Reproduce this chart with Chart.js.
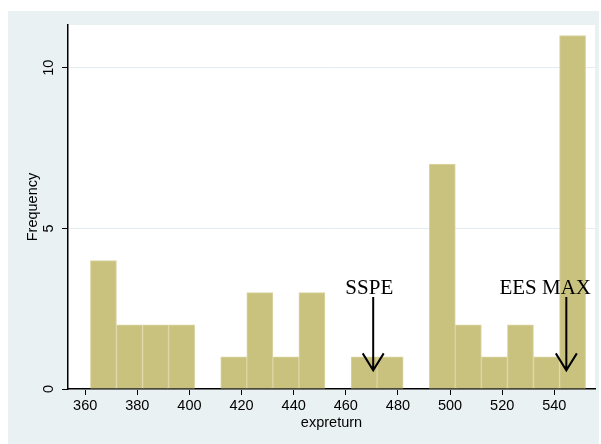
<!DOCTYPE html>
<html>
<head>
<meta charset="utf-8">
<script src="https://cdn.jsdelivr.net/npm/chart.js@4.4.1/dist/chart.umd.min.js"></script>
<style>
  html, body { margin: 0; padding: 0; background: #fff; }
  #wrap { position: relative; width: 601px; height: 444px; }
</style>
</head>
<body>
<div id="wrap"><canvas id="grafico"></canvas></div>
<script>
// histogram bins (centre of each 10-wide bin) and frequencies
const binCenters = [367, 377, 387, 397, 407, 417, 427, 437, 447, 457, 467, 477, 487, 497, 507, 517, 527, 537, 547];
const counts     = [4, 2, 2, 2, 0, 1, 3, 1, 3, 0, 1, 1, 0, 7, 2, 1, 2, 1, 11];

const xTicks = [360, 380, 400, 420, 440, 460, 480, 500, 520, 540];
const yTicks = [0, 5, 10];

// text + arrow notes, in data units
const noteLabels = ["SSPE", "EES MAX"];
const noteTextX  = [469, 536.5];
const noteTextY  = [2.95, 2.95];
const arrowX     = [470.5, 544.6];
const arrowTop   = [2.86, 2.86];
const arrowTip   = [0.58, 0.58];

const fuente = "'Liberation Sans', Arial, Helvetica, sans-serif";

const fondo = {
  id: "fondo",
  beforeDraw(chart) {
    const { ctx, chartArea } = chart;
    ctx.save();
    ctx.fillStyle = "#ffffff";
    ctx.fillRect(0, 0, chart.width, chart.height);
    ctx.fillStyle = "#eaf1f3";
    ctx.fillRect(8, 11, 591, chart.height - 11);
    ctx.fillStyle = "#ffffff";
    ctx.fillRect(chartArea.left, chartArea.top, chartArea.right - chartArea.left, chartArea.bottom - chartArea.top);
    ctx.restore();
  }
};

// y tick labels drawn rotated, like the original
const etiquetasY = {
  id: "etiquetasY",
  afterDraw(chart) {
    const { ctx } = chart;
    const y = chart.scales.y;
    ctx.save();
    ctx.fillStyle = "#000";
    ctx.font = "14.5px " + fuente;
    ctx.textAlign = "center";
    ctx.textBaseline = "middle";
    yTicks.forEach(v => {
      const py = y.getPixelForValue(v);
      ctx.save();
      ctx.translate(49, py);
      ctx.rotate(-Math.PI / 2);
      ctx.fillText(String(v), 0, 0);
      ctx.restore();
    });
    ctx.restore();
  }
};

const notas = {
  id: "notas",
  afterDatasetsDraw(chart) {
    const { ctx } = chart;
    const x = chart.scales.x;
    const y = chart.scales.y;
    ctx.save();
    ctx.fillStyle = "#000";
    ctx.strokeStyle = "#000";
    ctx.lineWidth = 2;
    ctx.font = "21px 'Liberation Serif', 'Times New Roman', serif";
    ctx.textAlign = "center";
    ctx.textBaseline = "alphabetic";
    noteLabels.forEach((txt, i) => {
      ctx.fillText(txt, x.getPixelForValue(noteTextX[i]), y.getPixelForValue(noteTextY[i]));
      const ax = x.getPixelForValue(arrowX[i]);
      const top = y.getPixelForValue(arrowTop[i]);
      const tip = y.getPixelForValue(arrowTip[i]);
      ctx.beginPath();
      ctx.moveTo(ax, top);
      ctx.lineTo(ax, tip);
      ctx.moveTo(ax - 10.5, tip - 17);
      ctx.lineTo(ax, tip);
      ctx.lineTo(ax + 10.5, tip - 17);
      ctx.stroke();
    });
    ctx.restore();
  }
};

const data = {
  datasets: [{
    label: "Frequency",
    data: binCenters.map((c, i) => ({ x: c, y: counts[i] })),
    backgroundColor: "#c9c27f",
    borderColor: "#dbd5a3",
    borderWidth: 1,
    barPercentage: 1,
    categoryPercentage: 1
  }]
};

const config = {
  type: "bar",
  data,
  plugins: [fondo, etiquetasY, notas],
  options: {
    responsive: false,
    animation: false,
    layout: { padding: { left: 0, top: 25, right: 6, bottom: 0 } },
    plugins: { legend: { display: false }, tooltip: { enabled: false } },
    scales: {
      x: {
        type: "linear",
        min: 353.4,
        max: 555.6,
        offset: false,
        afterBuildTicks: s => { s.ticks = xTicks.map(v => ({ value: v })); },
        afterFit: s => { s.height = 55; },
        grid: { offset: false, drawOnChartArea: false, drawTicks: true, tickLength: 6, tickColor: "#000", tickWidth: 1 },
        border: { display: true, color: "#000", width: 1.5 },
        ticks: { color: "#000", font: { family: fuente, size: 14.5 }, padding: 2, maxRotation: 0, autoSkip: false },
        title: { display: true, text: "expreturn", color: "#000", font: { family: fuente, size: 14.5 }, padding: { top: 0, bottom: 12.3 } }
      },
      y: {
        type: "linear",
        min: 0,
        max: 11.33,
        afterBuildTicks: s => { s.ticks = yTicks.map(v => ({ value: v })); },
        afterFit: s => { s.width = 68; },
        grid: { color: "#e2ecf0", lineWidth: 1, drawTicks: true, tickLength: 6, tickColor: "#000", tickWidth: 1 },
        border: { display: true, color: "#000", width: 1.5 },
        ticks: { color: "rgba(0,0,0,0)", font: { family: fuente, size: 14.5 } },
        title: { display: true, text: "Frequency", color: "#000", font: { family: fuente, size: 14.5 }, padding: { top: 24.3, bottom: 0 } }
      }
    }
  }
};

const lienzo = document.getElementById("grafico");
lienzo.width = 601;
lienzo.height = 444;
window.grafica = new Chart(lienzo, config);
</script>
</body>
</html>
